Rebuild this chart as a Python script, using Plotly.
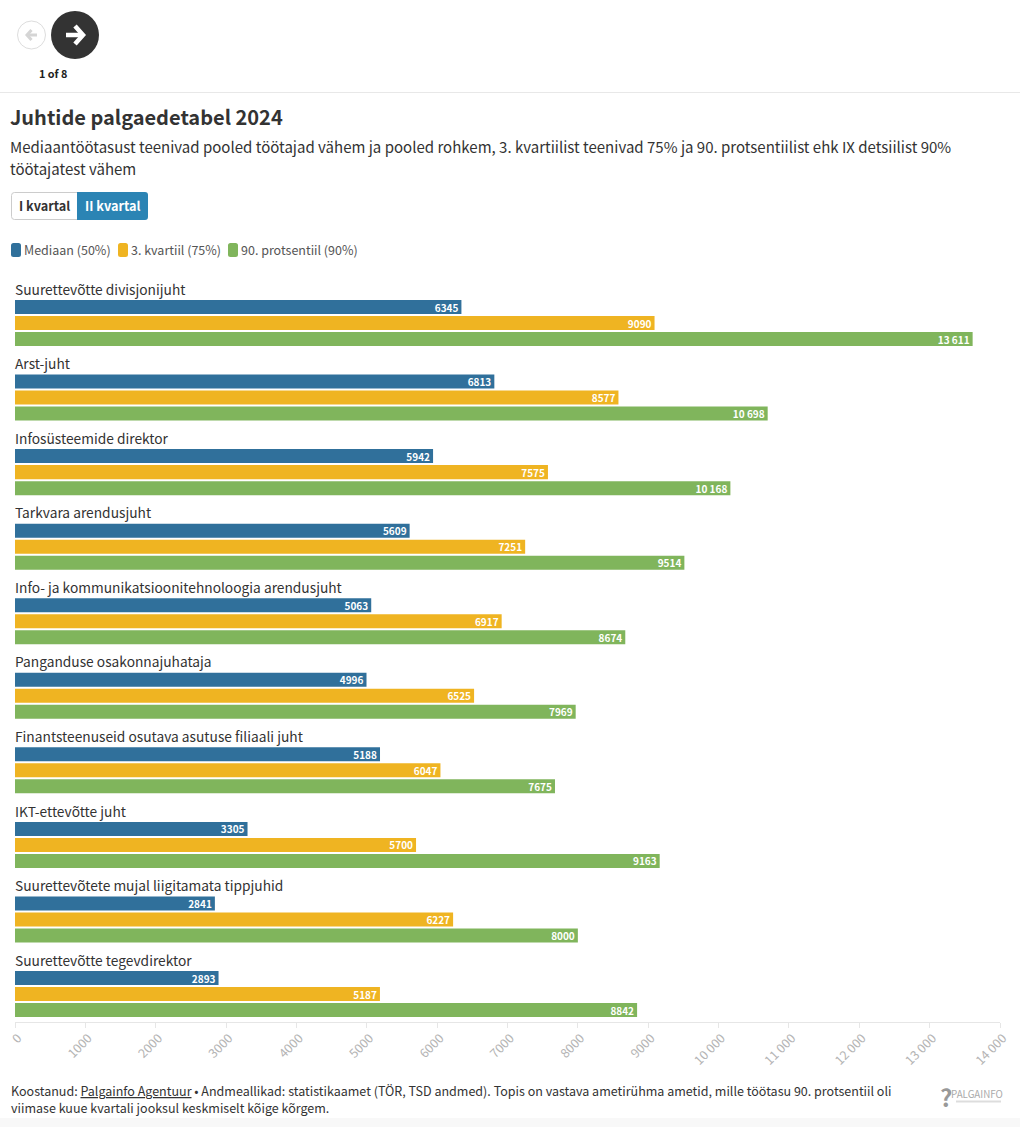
import plotly.graph_objects as go

W, H = 1020, 1127
ML, MR, MT, MB = 15, 20, 280, 105

categories = ["Suurettevõtte divisjonijuht", "Arst-juht", "Infosüsteemide direktor", "Tarkvara arendusjuht",
              "Info- ja kommunikatsioonitehnoloogia arendusjuht", "Panganduse osakonnajuhataja",
              "Finantsteenuseid osutava asutuse filiaali juht", "IKT-ettevõtte juht",
              "Suurettevõtete mujal liigitamata tippjuhid", "Suurettevõtte tegevdirektor"]
mediaan = [6345, 6813, 5942, 5609, 5063, 4996, 5188, 3305, 2841, 2893]
kvartiil3 = [9090, 8577, 7575, 7251, 6917, 6525, 6047, 5700, 6227, 5187]
protsentiil90 = [13611, 10698, 10168, 9514, 8674, 7969, 7675, 9163, 8000, 8842]
series_names = ["Mediaan (50%)", "3. kvartiil (75%)", "90. protsentiil (90%)"]
series_colors = ["#30709b", "#efb422", "#80b55c"]
tick_values = list(range(0, 15000, 1000))
tick_labels = ["0", "1000", "2000", "3000", "4000", "5000", "6000", "7000", "8000", "9000",
               "10 000", "11 000", "12 000", "13 000", "14 000"]

FONT = "Noto Sans CJK JP"
DARK = "#333333"

def fmt(v):
    return f"{v // 1000} {v % 1000:03d}" if v >= 10000 else str(v)
def px(x): return (x - ML) / (W - ML - MR)
def py(y): return (H - MB - y) / (H - MT - MB)
def pt(x, y): return f"{px(x):.5f},{py(y):.5f}"

fig = go.Figure()
for name, vals, col in zip(series_names, [mediaan, kvartiil3, protsentiil90], series_colors):
    fig.add_trace(go.Bar(name=name, y=categories, x=vals, orientation="h", marker_color=col,
                         marker_line_width=0, text=[fmt(v) for v in vals], textposition="inside",
                         insidetextanchor="end", constraintext="none", textangle=0,
                         textfont=dict(color="white", size=10, family=FONT, weight=700),
                         hoverinfo="skip"))

annotations, shapes = [], []
def text(x, y, s, size, color=DARK, anchor="left", bold=False, family=FONT):
    annotations.append(dict(xref="paper", yref="paper", x=px(x), y=py(y), text=f"<b>{s}</b>" if bold else s,
                            showarrow=False, xanchor=anchor, yanchor="middle",
                            font=dict(size=size, color=color, family=family),
                            borderpad=0, borderwidth=0, align="left"))
def rrect(x0, y0, x1, y1, r, fill, line=None):
    path = (f"M{pt(x0 + r, y0)} L{pt(x1 - r, y0)} Q{pt(x1, y0)} {pt(x1, y0 + r)} L{pt(x1, y1 - r)} "
            f"Q{pt(x1, y1)} {pt(x1 - r, y1)} L{pt(x0 + r, y1)} Q{pt(x0, y1)} {pt(x0, y1 - r)} "
            f"L{pt(x0, y0 + r)} Q{pt(x0, y0)} {pt(x0 + r, y0)} Z")
    shapes.append(dict(type="path", xref="paper", yref="paper", path=path, fillcolor=fill,
                       line=dict(color=line or fill, width=1 if line else 0), layer="above"))
def rect(x0, y0, x1, y1, fill, layer="above"):
    shapes.append(dict(type="rect", xref="paper", yref="paper", x0=px(x0), x1=px(x1), y0=py(y0), y1=py(y1),
                       fillcolor=fill, line=dict(width=0), layer=layer))
def circle(x0, y0, x1, y1, fill, line=None):
    shapes.append(dict(type="circle", xref="paper", yref="paper", x0=px(x0), x1=px(x1), y0=py(y0), y1=py(y1),
                       fillcolor=fill, line=dict(color=line or fill, width=1 if line else 0)))
def seg(points, color, width):
    path = "M" + " L".join(pt(x, y) for x, y in points)
    shapes.append(dict(type="path", xref="paper", yref="paper", path=path,
                       line=dict(color=color, width=width)))

# navigation
circle(17.5, 21, 45.5, 49, "#ffffff", "#dddddd")
seg([(37, 35), (27, 35)], "#d5d5d5", 3)
seg([(31.5, 30), (27, 35), (31.5, 40)], "#d5d5d5", 3)
circle(51, 11, 99, 59, "#333333")
seg([(66, 35), (82, 35)], "#ffffff", 4.5)
seg([(75, 26), (83, 35), (75, 44)], "#ffffff", 4.5)
text(53, 73.2, "1 of 8", 10.8, "#222222", "center", True)
seg([(0, 92.5), (1020, 92.5)], "#e8e8e8", 1)

# heading
text(10, 116.2, "Juhtide palgaedetabel 2024", 20, DARK, bold=True)
text(10, 147, "Mediaantöötasust teenivad pooled töötajad vähem ja pooled rohkem, 3. kvartiilist teenivad 75% ja 90. protsentiilist ehk IX detsiilist 90%", 15.03)
text(10, 168, "töötajatest vähem", 15.03)

# buttons
rrect(11.5, 192.5, 80, 219.5, 3, "#ffffff", "#cccccc")
rrect(77, 192, 148, 220, 3, "#2b84b4")
rect(77, 192, 84, 220, "#2b84b4")
text(44.5, 206, "I kvartal", 12.7, DARK, "center", True)
text(112.5, 206, "II kvartal", 12.7, "#ffffff", "center", True)

# legend
for x, tx, name, col in zip([11, 118, 228], [24, 131, 241], series_names, series_colors):
    rrect(x, 243, x + 10, 257, 2.5, col)
    text(tx, 249.8, name, 12.5, "#555555")

# category labels
for c in categories:
    annotations.append(dict(xref="x", yref="y", x=0, y=c, text=c, showarrow=False, xanchor="left", yanchor="middle",
                            yshift=34.3, xshift=-1, font=dict(size=13.75, color=DARK, family=FONT), borderpad=0))

# footer
text(10.6, 1090.2, "Koostanud: <u>Palgainfo Agentuur</u> • Andmeallikad: statistikaamet (TÖR, TSD andmed). Topis on vastava ametirühma ametid, mille töötasu 90. protsentiil oli", 12.52)
text(10.6, 1107.5, "viimase kuue kvartali jooksul keskmiselt kõige kõrgem.", 12.52)
rect(0, 1118, 1020, 1127, "#f8f8f8", "below")
text(946, 1096, "<b>?</b>", 24, "#999999", "center")
text(1003, 1094, "PALGAINFO", 9.8, "#aaaaaa", "right")
rect(956, 1100.5, 1001, 1102.5, "#dddddd")

fig.update_layout(
    width=W, height=H, margin=dict(l=ML, r=MR, t=MT, b=MB, autoexpand=False),
    paper_bgcolor="white", plot_bgcolor="white", showlegend=False,
    barmode="group", bargap=0.356, bargroupgap=0.125,
    font=dict(family=FONT), annotations=annotations, shapes=shapes,
    xaxis=dict(range=[0, 14000], tickvals=tick_values, ticktext=tick_labels, tickangle=-45, ticks="outside",
               ticklen=5, tickcolor="#e6e6e6", tickfont=dict(size=12.5, color="#b4b4b4", family=FONT),
               ticklabelshift=3, ticklabelstandoff=-2,
               showgrid=False, zeroline=False, showline=True, linecolor="#e6e6e6", side="bottom"),
    yaxis=dict(type="category", categoryorder="array", categoryarray=categories, range=[9.3755, -0.577],
               showticklabels=False, ticks="", showgrid=False, zeroline=False, showline=False),
)
fig.write_html("out.html", config=dict(displayModeBar=False),
               post_script="document.body.style.margin='0';document.documentElement.style.overflow='hidden';")
